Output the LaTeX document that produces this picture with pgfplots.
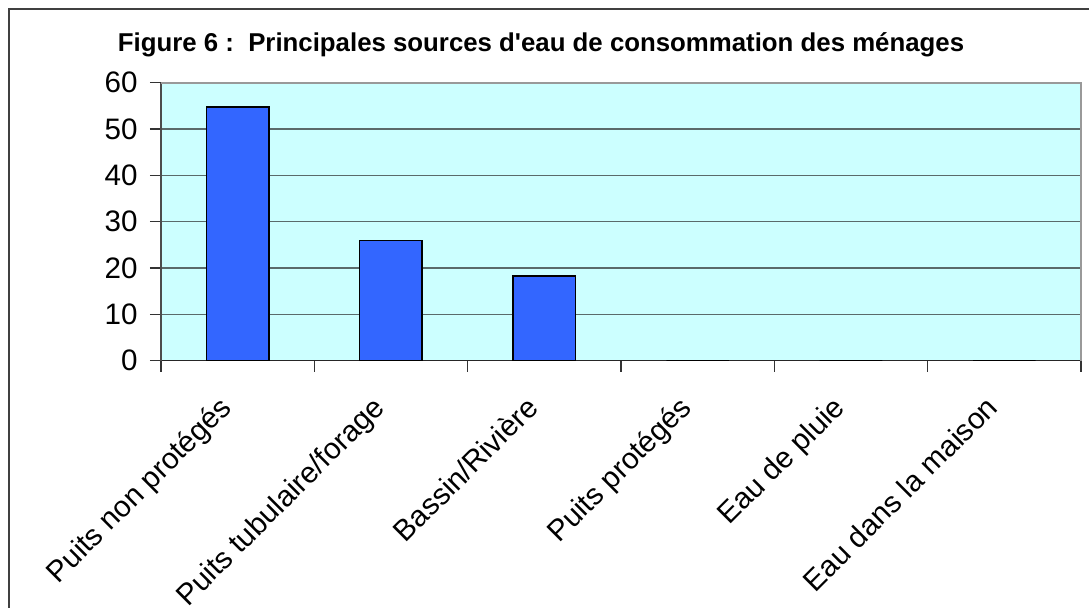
\documentclass[border=0pt]{standalone}
\usepackage{fontspec}
\setmainfont{Liberation Sans}
\usepackage{pgfplots}
\pgfplotsset{compat=1.18}
\definecolor{bgcyan}{HTML}{CCFFFF}
\definecolor{barblue}{HTML}{3366FF}
\definecolor{gridc}{HTML}{5A6A6A}
\begin{document}
\begin{tikzpicture}
\useasboundingbox (-80.5pt,-123.65pt) rectangle (464pt,180.35pt);
\draw[line width=1pt, color=black!75] (-76pt,-130pt) -- (-76pt,175.85pt) -- (470pt,175.85pt);
\node[font=\bfseries\fontsize{12.9}{15}\selectfont] at (190pt,157.9pt) {Figure 6 :\ \ Principales sources d\textquotesingle eau de consommation des ménages};
\begin{axis}[
  at={(0,0)}, anchor=south west,
  scale only axis, width=460pt, height=139pt,
  xmin=-0.5, xmax=5.5, ymin=0, ymax=60,
  axis background/.style={fill=bgcyan},
  xtick={-0.5,0.5,...,5.5},
  x tick label as interval,
  xticklabels={Puits non protégés, Puits tubulaire/forage, Bassin/Rivière, Puits protégés, Eau de pluie, Eau dans la maison},
  ytick={0,10,...,60},
  ymajorgrids,
  major grid style={color=gridc, line width=0.6pt},
  tick align=outside,
  major tick length=5.5pt,
  tick style={color=black!80, line width=0.6pt},
  axis x line*=bottom,
  axis y line*=left,
  x axis line style={color=black!85, line width=0.8pt},
  y axis line style={color=black!70, line width=0.6pt},
  ticklabel style={font=\fontsize{14.8}{17}\selectfont},
  /pgf/number format/assume math mode=true,
  yticklabel style={inner sep=1pt, xshift=-5pt},
  xticklabel style={anchor=north east, inner sep=0pt, xshift=-10pt, yshift=-11pt, rotate=45},
  clip=false,
]
\draw[color=black!40, line width=1pt] (rel axis cs:1,0) -- (rel axis cs:1,1) -- (rel axis cs:0,1);
\addplot[ybar, bar width=31.3pt, fill=barblue, draw=black, line width=0.8pt] coordinates {
 (0,54.8) (1,25.9) (2,18.3) (3,0) (4,0) (5,0)
};
\end{axis}
\end{tikzpicture}
\end{document}
